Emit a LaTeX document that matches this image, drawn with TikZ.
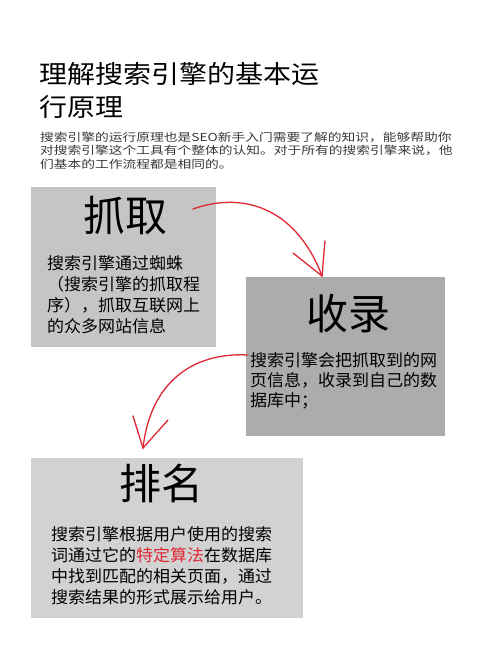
\documentclass[tikz,border=0pt]{standalone}
\usepackage{fontspec}
\setmainfont{Noto Sans CJK SC}
\newfontfamily\titlefont{Noto Sans CJK SC}[FakeStretch=1.12]
\newfontfamily\introfont{Noto Sans CJK SC}[FakeStretch=1.25]
\newfontfamily\bodyfont{Noto Sans CJK SC}[FakeStretch=1.03]
\definecolor{boxa}{RGB}{197,197,197}
\definecolor{boxb}{RGB}{172,172,172}
\definecolor{boxc}{RGB}{210,210,210}
\definecolor{arrred}{RGB}{222,40,52}
\definecolor{paragray}{RGB}{55,55,55}
\tikzset{
  panel/.style={anchor=north west, inner sep=0pt, draw=none},
  heading/.style={font=\fontsize{42}{42}\selectfont, text=black, inner sep=0pt},
  body/.style={anchor=base west, align=left, inner sep=0pt, font=\bodyfont\fontsize{16.5}{21}\selectfont, text=black},
  flow/.style={draw=arrred, line width=1.3pt, line cap=round}
}
\begin{document}
\begin{tikzpicture}[x=1pt,y=-1pt]
\useasboundingbox (0,0) rectangle (500,653);
% title (base anchor = baseline of the last line)
\node[anchor=base west, align=left, inner sep=0pt, font=\titlefont\fontsize{25}{33}\selectfont] (title) at (39,116) {理解搜索引擎的基本运\\行原理};
\node[anchor=base west, align=left, inner sep=0pt, text=paragray, font=\introfont\fontsize{11}{13.7}\selectfont] (intro) at (40,168.5) {搜索引擎的运行原理也是SEO新手入门需要了解的知识，能够帮助你\\对搜索引擎这个工具有个整体的认知。对于所有的搜索引擎来说，他\\们基本的工作流程都是相同的。};
% boxes
\node[panel, fill=boxa, minimum width=185, minimum height=160] (b1) at (31,187) {};
\node[panel, fill=boxb, minimum width=199, minimum height=159] (b2) at (246,277) {};
\node[panel, fill=boxc, minimum width=272, minimum height=160] (b3) at (31,458) {};
% headings
\node[heading] (h1) at (125,216) {抓取};
\node[heading] (h2) at (348,314) {收录};
\node[heading] (h3) at (161,483) {排名};
% body texts
\node[body] (t1) at (47,332) {搜索引擎通过蜘蛛\\（搜索引擎的抓取程\\序），抓取互联网上\\的众多网站信息};
\node[body, font=\bodyfont\fontsize{16.5}{20}\selectfont] (t2) at (250,406) {搜索引擎会把抓取到的网\\页信息，收录到自己的数\\据库中；};
\node[body, font=\bodyfont\fontsize{16.5}{20.7}\selectfont] (t3) at (51,603) {搜索引擎根据用户使用的搜索\\词通过它的\textcolor{arrred}{特定算法}在数据库\\中找到匹配的相关页面，通过\\搜索结果的形式展示给用户。};
% arrows
\coordinate (s1) at (193,209);
\coordinate (e1) at (322,276);
\coordinate (e1a) at (293,253);
\coordinate (e1b) at (325,241);
\coordinate (s2) at (248,355);
\coordinate (e2) at (143,448);
\coordinate (e2a) at (133,416);
\coordinate (e2b) at (168,420);
\draw[flow] (s1) .. controls (240,192) and (295,205) .. (e1);
\draw[flow] (e1a) -- (e1) -- (e1b);
\draw[flow] (s2) .. controls (190,352) and (150,385) .. (e2);
\draw[flow] (e2a) -- (e2) -- (e2b);
\end{tikzpicture}
\end{document}
